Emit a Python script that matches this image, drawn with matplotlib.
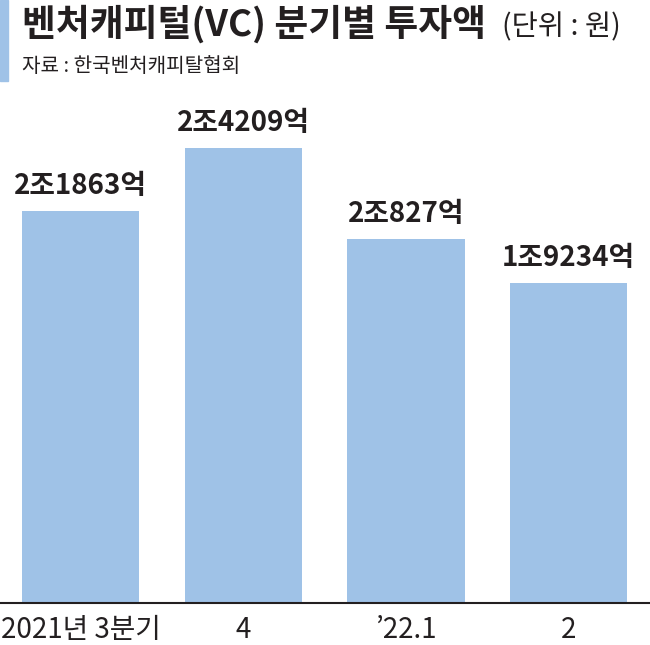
import matplotlib as mpl
import matplotlib.pyplot as plt
from matplotlib.patches import Rectangle

mpl.rcParams['font.family'] = ['Noto Sans CJK KR', 'DejaVu Sans']

# data
quarters = ['2021년 3분기', '4', '’22.1', '2']
amounts = [21863, 24209, 20827, 19234]   # 억원
labels = ['2조1863억', '2조4209억', '2조827억', '1조9234억']

bar_color = '#9fc2e7'
ink = '#231f20'

fig = plt.figure(figsize=(6.5, 6.45), dpi=100)

# axes: baseline at y=603 px, top at 100 px
ax = fig.add_axes([0, 42 / 645, 1, 503 / 645])
x = range(len(amounts))
ax.bar(x, amounts, width=0.72, color=bar_color)
ax.set_xlim(-0.495, 3.5)
ax.set_ylim(7432, 7432 + 503 / 0.02714)

for xi, v, lab in zip(x, amounts, labels):
    ax.annotate(lab, (xi, v), xytext=(0, 8), textcoords='offset points',
                ha='center', va='bottom', fontsize=20, fontweight='bold',
                color=ink)

for s in ['top', 'left', 'right']:
    ax.spines[s].set_visible(False)
ax.spines['bottom'].set_linewidth(1.5)
ax.spines['bottom'].set_color(ink)
ax.set_yticks([])
ax.set_xticks(list(x))
ax.set_xticklabels(quarters, fontsize=20, color=ink)
ax.tick_params(axis='x', length=0, pad=9)

# title block
fig.patches.append(Rectangle((0, 1 - 81 / 645), 8 / 650, 81 / 645,
                             transform=fig.transFigure, color=bar_color))
fig.text(22 / 650, 1 - 36 / 645, '벤처캐피털(VC) 분기별 투자액', fontsize=26.5,
         fontweight='bold', color=ink, va='baseline', ha='left')
fig.text(621 / 650, 1 - 35 / 645, '(단위 : 원)', fontsize=20.5,
         color=ink, va='baseline', ha='right')
fig.text(22 / 650, 1 - 66 / 645, '자료 : 한국벤처캐피탈협회', fontsize=14.5,
         color=ink, va='center', ha='left')

fig.savefig('out.png', dpi=100)
